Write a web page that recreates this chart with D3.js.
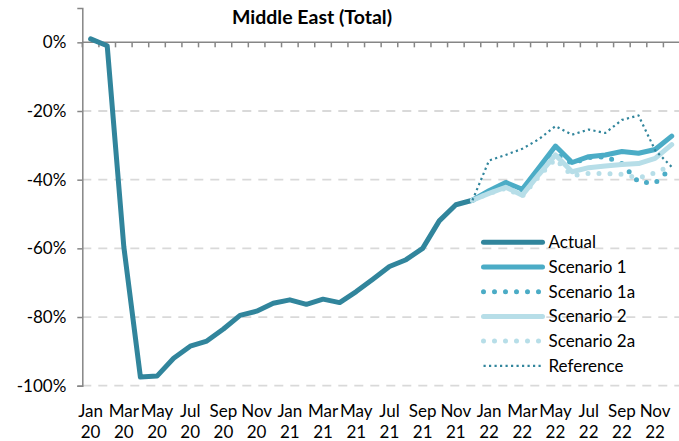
<!DOCTYPE html>
<html>
<head>
<meta charset="utf-8">
<script src="https://cdn.jsdelivr.net/npm/d3@7"></script>
<style>
  html, body { margin: 0; padding: 0; background: #fff; }
  svg { display: block; font-family: Lato, "Open Sans", sans-serif; }
</style>
</head>
<body>
<svg id="chart" width="679" height="441"></svg>
<script>
// Monthly categories, Jan 2020 – Dec 2022
const monthNames = ["Jan","Feb","Mar","Apr","May","Jun","Jul","Aug","Sep","Oct","Nov","Dec"];
const years = ["20", "21", "22"];
const months = years.flatMap(y => monthNames.map(m => m + " " + y));

// Change vs. baseline (%), Jan 2020 – Dec 2021
const actual = [1, -1, -59.5, -97.5, -97.2, -92, -88.5, -87, -83.5, -79.5, -78.3, -76,
                -75, -76.3, -74.8, -75.8, -72.6, -69, -65.3, -63.3, -60, -52, -47.3, -46];

// Projections, Dec 2021 – Dec 2022
const scenario1  = [-46, -43.2, -40.8, -42.8, -36.5, -30.2, -35, -33.3, -32.8, -31.8, -32.3, -31.2, -27.3];
const scenario1a = [-46, -43.5, -41.2, -43.2, -37, -32.5, -35.3, -33.6, -33.3, -35.3, -40.7, -41, -36.5];
const scenario2  = [-46, -44, -42.2, -44.5, -38.5, -32.8, -37.7, -36.5, -36, -35.6, -35.3, -33.8, -29.8];
const scenario2a = [-46, -44, -42.5, -44.8, -39, -34, -38.8, -38.2, -38.2, -38.4, -39.5, -38, -35.8];
const reference  = [-46, -34.4, -32.8, -31, -28.2, -24.4, -26.9, -25.4, -26.4, -22.6, -21.3, -31.4, -36.3];

const yTicks = [0, -20, -40, -60, -80, -100];
const projStart = months.indexOf("Dec 21");

const series = [
  { name: "Actual",      values: actual,     start: 0,         color: "#31859C", width: 5,   dash: null,        cap: "round" },
  { name: "Scenario 1",  values: scenario1,  start: projStart, color: "#4BACC6", width: 5,   dash: null,        cap: "round" },
  { name: "Scenario 1a", values: scenario1a, start: projStart, color: "#4BACC6", width: 5,   dash: "0 11",      cap: "round" },
  { name: "Scenario 2",  values: scenario2,  start: projStart, color: "#B7DEE8", width: 5,   dash: null,        cap: "round" },
  { name: "Scenario 2a", values: scenario2a, start: projStart, color: "#B7DEE8", width: 5,   dash: "0 11",      cap: "round" },
  { name: "Reference",   values: reference,  start: projStart, color: "#31859C", width: 2.2, dash: "2.2 3.3",   cap: "butt" }
];

const svg = d3.select("#chart");
const W = 679, H = 441;
const plot = { left: 82.3, right: 680, top: 8, bottom: 385.7 };

const x = d3.scaleBand().domain(months).range([plot.left, plot.right]).padding(0);
const y = d3.scaleLinear().domain([-100, 10]).range([plot.bottom, plot.top]);
const cx = i => x(months[i]) + x.bandwidth() / 2;

// Title
svg.append("text")
  .attr("x", 312).attr("y", 23.5)
  .attr("text-anchor", "middle")
  .attr("font-weight", "bold")
  .attr("font-size", 19.5)
  .attr("fill", "#000")
  .text("Middle East (Total)");

// Dashed horizontal gridlines
svg.append("g").selectAll("line")
  .data(yTicks.filter(t => t !== 0))
  .join("line")
  .attr("x1", plot.left).attr("x2", W)
  .attr("y1", d => y(d)).attr("y2", d => y(d))
  .attr("stroke", "#D9D9D9").attr("stroke-width", 1.8)
  .attr("stroke-dasharray", "9 7");

// Value axis
const yAxis = d3.axisLeft(y)
  .tickValues(yTicks)
  .tickSize(5).tickPadding(11)
  .tickFormat(d => d + "%");
const gy = svg.append("g").attr("transform", `translate(${plot.left},0)`).call(yAxis);
gy.select(".domain").attr("stroke", "#868686").attr("stroke-width", 1.5);
gy.selectAll(".tick line").attr("stroke", "#868686").attr("stroke-width", 1.5);
gy.selectAll(".tick text").attr("font-size", 17).attr("fill", "#000")
  .attr("font-family", "Lato, 'Open Sans', sans-serif");

// Category axis crossing at 0%
const monthTicks = d3.range(months.length + 1).map(i => plot.left + i * x.bandwidth());
svg.append("line")
  .attr("x1", plot.left).attr("x2", W)
  .attr("y1", y(0)).attr("y2", y(0))
  .attr("stroke", "#868686").attr("stroke-width", 1.5);
svg.append("g").selectAll("line")
  .data(monthTicks)
  .join("line")
  .attr("x1", d => d).attr("x2", d => d)
  .attr("y1", y(0)).attr("y2", y(0) + 5)
  .attr("stroke", "#868686").attr("stroke-width", 1.5);

// Category labels every second month, two lines
const labelIdx = d3.range(0, months.length, 2);
const xl = svg.append("g").attr("font-size", 17).attr("fill", "#000").attr("text-anchor", "middle");
labelIdx.forEach(i => {
  const [m, yr] = months[i].split(" ");
  xl.append("text").attr("x", cx(i)).attr("y", 416.5).text(m);
  xl.append("text").attr("x", cx(i)).attr("y", 437.5).text(yr);
});

// Series lines
const line = d3.line()
  .x(d => cx(d.i))
  .y(d => y(d.v));

series.forEach(s => {
  const pts = s.values.map((v, k) => ({ i: s.start + k, v }));
  svg.append("path")
    .datum(pts)
    .attr("d", line)
    .attr("fill", "none")
    .attr("stroke", s.color)
    .attr("stroke-width", s.width)
    .attr("stroke-linejoin", "round")
    .attr("stroke-linecap", s.cap)
    .attr("stroke-dasharray", s.dash);
});

// Legend
const legend = svg.append("g").attr("transform", "translate(483.5,242.3)");
series.forEach((s, k) => {
  const g = legend.append("g").attr("transform", `translate(0,${k * 24.7})`);
  g.append("line")
    .attr("x1", 0).attr("x2", 59)
    .attr("y1", 0).attr("y2", 0)
    .attr("stroke", s.color)
    .attr("stroke-width", s.width)
    .attr("stroke-linecap", s.cap)
    .attr("stroke-dasharray", s.dash);
  g.append("text")
    .attr("x", 65).attr("y", 6)
    .attr("font-size", 17)
    .attr("fill", "#000")
    .text(s.name);
});
</script>
</body>
</html>
